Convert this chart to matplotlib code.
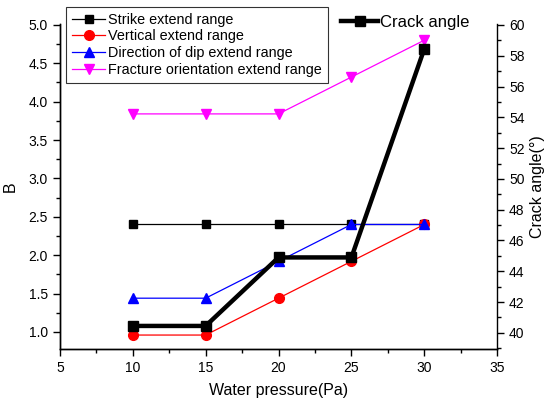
import matplotlib
matplotlib.use("Agg")
import matplotlib.pyplot as plt
from matplotlib.ticker import MultipleLocator, FormatStrFormatter

plt.rcParams["font.family"] = ["Liberation Sans", "DejaVu Sans"]

pressure = [10, 15, 20, 25, 30]
strike = [2.4, 2.4, 2.4, 2.4, 2.4]
vertical = [0.96, 0.96, 1.44, 1.92, 2.4]
dip = [1.44, 1.44, 1.92, 2.4, 2.4]
fracture = [3.84, 3.84, 3.84, 4.32, 4.8]
crack_angle = [40.45, 40.45, 44.9, 44.9, 58.45]

fig = plt.figure(figsize=(5.44, 4.01), dpi=100)
ax = fig.add_axes([0.110, 0.130, 0.804, 0.810])

l1, = ax.plot(pressure, strike, color="black", lw=0.9, marker="s", ms=6, label="Strike extend range")
l2, = ax.plot(pressure, vertical, color="red", lw=0.9, marker="o", ms=7, label="Vertical extend range")
l3, = ax.plot(pressure, dip, color="blue", lw=0.9, marker="^", ms=7, label="Direction of dip extend range")
l4, = ax.plot(pressure, fracture, color="magenta", lw=0.9, marker="v", ms=7, label="Fracture orientation extend range")

ax2 = ax.twinx()
l5, = ax2.plot(pressure, crack_angle, color="black", lw=3.2, marker="s", ms=6.5, label="Crack angle")

ax.set_xlim(5, 35)
ax.set_ylim(0.78, 5.01)
ax2.set_ylim(38.96, 60.06)

ax.xaxis.set_major_locator(MultipleLocator(5))
ax.xaxis.set_minor_locator(MultipleLocator(2.5))
ax.yaxis.set_major_locator(MultipleLocator(0.5))
ax.yaxis.set_minor_locator(MultipleLocator(0.25))
ax2.yaxis.set_major_locator(MultipleLocator(2))
ax2.yaxis.set_minor_locator(MultipleLocator(1))

for a in (ax, ax2):
    a.spines["top"].set_visible(False)
    for s in a.spines.values():
        s.set_linewidth(1.0)
    a.tick_params(which="major", direction="out", length=5, width=1, labelsize=10)
    a.tick_params(which="minor", direction="out", length=3, width=1)
ax.spines["right"].set_visible(False)
ax.yaxis.set_major_formatter(FormatStrFormatter("%.1f"))

ax.set_xlabel("Water pressure(Pa)", fontsize=11.5, labelpad=6)
ax.set_ylabel("B", fontsize=11.5, labelpad=8)
ax2.set_ylabel("Crack angle(°)", fontsize=11.5, labelpad=4)

leg = fig.legend(handles=[l1, l2, l3, l4], loc="upper left", bbox_to_anchor=(0.122, 0.983),
                 fontsize=10.4, frameon=True, fancybox=False, edgecolor="black",
                 borderpad=0.4, labelspacing=0.2, handlelength=2.3, handletextpad=0.2,
                 borderaxespad=0)
leg.get_frame().set_linewidth(0.8)
leg2 = fig.legend(handles=[l5], loc="upper left", bbox_to_anchor=(0.615, 0.98),
                  fontsize=12, frameon=False, handlelength=2.2, handletextpad=0.1,
                  borderaxespad=0)

fig.savefig("out.png", dpi=100)
